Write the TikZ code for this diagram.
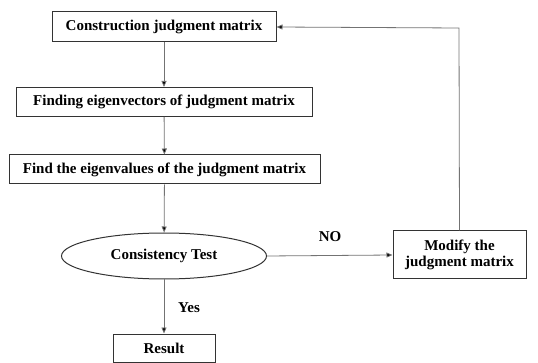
\documentclass[tikz,border=0pt]{standalone}
\usepackage{fontspec}
\setmainfont{Liberation Serif}
\usetikzlibrary{shapes.geometric,arrows.meta}
\begin{document}
\begin{tikzpicture}[x=1pt,y=-1pt,
  box/.style={draw=black!80,line width=1pt,inner sep=0pt,font=\bfseries\fontsize{15}{16}\selectfont,align=center},
  conn/.style={draw=black!55,line width=0.8pt,-{Triangle[length=6pt,width=5pt,fill=black]}},
  lbl/.style={font=\bfseries\fontsize{15}{16}\selectfont}]
\useasboundingbox (0,0) rectangle (538,363);
\node[box,minimum width=224pt,minimum height=30pt] (b1) at (164,27) {Construction judgment matrix};
\node[box,minimum width=296pt,minimum height=29pt] (b2) at (164,102) {Finding eigenvectors of judgment matrix};
\node[box,minimum width=311pt,minimum height=29pt] (b3) at (164.5,169.5) {Find the eigenvalues of the judgment matrix};
\node[box,ellipse,minimum width=205pt,minimum height=46pt] (ct) at (164,256) {Consistency Test};
\node[box,minimum width=133pt,minimum height=48pt] (mod) at (459.5,255) {Modify the\\judgment matrix};
\node[box,minimum width=102pt,minimum height=28pt] (res) at (164,348) {Result};
\coordinate (c1) at (459,28);
\draw[conn] (b1) -- (b2);
\draw[conn] (b2) -- (b3);
\draw[conn] (b3) -- (ct);
\draw[conn] (ct) -- (res);
\draw[conn] (ct.east) -- (mod.west);
\draw[conn] (mod.north) -- (c1) -- (b1.east);
\node[lbl] (no) at (330,237) {NO};
\node[lbl] (yes) at (189,308) {Yes};
\end{tikzpicture}
\end{document}
